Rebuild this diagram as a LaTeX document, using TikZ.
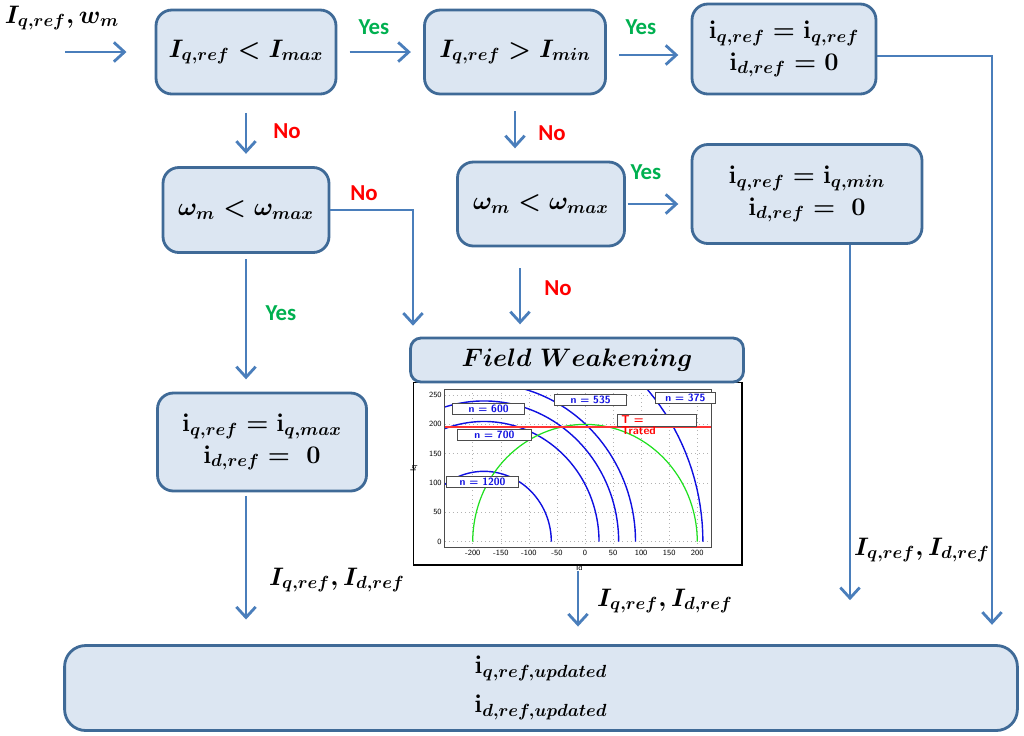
\documentclass[tikz,border=0pt]{standalone}
\usepackage{amsmath}
\usepackage{amssymb}
\usepackage{bm}
\usepackage{fontspec}
\newfontfamily\yesnofont{Carlito}
\usetikzlibrary{arrows.meta}

\definecolor{boxfill}{HTML}{DCE6F2}
\definecolor{boxline}{HTML}{3F6A97}
\definecolor{arrowblue}{HTML}{4A7EBB}
\definecolor{yesgreen}{HTML}{00B050}
\definecolor{plotblue}{HTML}{1010E0}
\definecolor{plotgreen}{HTML}{20E020}

\begin{document}
\begin{tikzpicture}
[
    x=0.02cm, y=-0.02cm,
    bx/.style={draw=boxline, fill=boxfill, line width=1.6pt, rounded corners=9pt, align=center,
               font=\Large\boldmath, inner sep=0pt},  % bx = decision / result box
    arr/.style={draw=arrowblue, line width=1.6pt, -{Straight Barb[length=6pt,width=11pt]},
                shorten <=7pt, shorten >=7pt},         % arr = flow arrow
    lne/.style={arr, shorten <=0pt},                   % lne = arrow leaving a box edge
    yes/.style={font=\yesnofont\bfseries\fontsize{13}{15}\selectfont, text=yesgreen},
    no/.style={font=\yesnofont\bfseries\fontsize{13}{15}\selectfont, text=red},
    lbl/.style={font=\Large\boldmath},
    tag/.style={draw=black!70, fill=white, inner sep=1pt, font=\sffamily\bfseries\fontsize{6}{6}\selectfont,
                text=plotblue, anchor=west},           % tag = curve label in the plot
]
\useasboundingbox (0,0) rectangle (1024,735);

% flow boxes
\node[bx, minimum width=3.6cm, minimum height=1.68cm] (b1) at (246,52) {$I_{q,ref} < I_{max}$};
\node[bx, minimum width=3.62cm, minimum height=1.68cm] (b2) at (515,52) {$I_{q,ref} > I_{min}$};
\node[bx, minimum width=3.68cm, minimum height=1.8cm] (b3) at (784,49)
    {$\mathbf{i}_{q,ref} = \mathbf{i}_{q,ref}$\\ $\mathbf{i}_{d,ref} = 0$};
\node[bx, minimum width=3.32cm, minimum height=1.7cm] (b4) at (246,210) {$\omega_m < \omega_{max}$};
\node[bx, minimum width=3.34cm, minimum height=1.68cm] (b6) at (541,204) {$\omega_m < \omega_{max}$};
\node[bx, minimum width=4.6cm, minimum height=1.98cm] (b7) at (807,194)
    {$\mathbf{i}_{q,ref} = \mathbf{i}_{q,min}$\\ $\mathbf{i}_{d,ref} = \ 0$};
\node[bx, minimum width=4.18cm, minimum height=1.96cm] (b5) at (262,442)
    {$\mathbf{i}_{q,ref} = \mathbf{i}_{q,max}$\\ $\mathbf{i}_{d,ref} = \ 0$};
\node[bx, minimum width=19.06cm, minimum height=1.7cm, rounded corners=12pt] (out) at (541,688)
    {$\mathbf{i}_{q,ref,updated}$\\[4pt] $\mathbf{i}_{d,ref,updated}$};

% field weakening plot
\node[draw=black, line width=0.6pt, minimum width=6.58cm, minimum height=3.66cm] (plt) at (577.5,473.5) {};
\begin{scope}[shift={(585,541.7)}, x=0.01123cm, y=0.01174cm]
  \draw[gray!60, dotted, line width=0.3pt] (-200,-10) grid[xstep=50,ystep=0] (200,260);
  \draw[gray!60, dotted, line width=0.3pt] (-250,0) grid[xstep=0,ystep=50] (225,250);
  \foreach \v in {-200,-150,...,200}
    \node[font=\sffamily\fontsize{4.5}{5}\selectfont, below, inner sep=1.5pt] at (\v,-10) {\v};
  \foreach \v in {0,50,...,250}
    \node[font=\sffamily\fontsize{4.5}{5}\selectfont, left, inner sep=1.5pt] at (-250,\v) {\v};
  \node[font=\sffamily\fontsize{4.5}{5}\selectfont] at (-10,-45) {Id};
  \node[font=\sffamily\fontsize{4.5}{5}\selectfont, rotate=90] at (-305,125) {Iq};
  \begin{scope}
    \clip (-250,-10) rectangle (225,260);
    \foreach \r in {120,205,240,270,390}
      \draw[plotblue, line width=0.8pt] plot[domain=0:180, samples=80] ({-180+\r*cos(\x)},{\r*sin(\x)});
    \draw[plotgreen, line width=0.7pt] plot[domain=0:180, samples=80] ({200*cos(\x)},{200*sin(\x)});
    \draw[red!80, line width=1pt] (-250,195) -- (225,195);
  \end{scope}
  \draw[black!70, line width=0.4pt] (-250,-10) rectangle (225,260);
\end{scope}
\node[tag, minimum width=1.45cm] (n600) at (452,408.5) {n = 600};
\node[tag, minimum width=1.45cm] (n535) at (554,399.5) {n = 535};
\node[tag, minimum width=1.2cm] (n375) at (655,397.5) {n = 375};
\node[tag, minimum width=1.48cm] (n700) at (457,434.5) {n = 700};
\node[tag, minimum width=1.45cm] (n1200) at (446,481.5) {n = 1200};
\node[tag, minimum width=1.58cm, minimum height=0.24cm] (trat) at (617,420) {};
\node[font=\sffamily\bfseries\fontsize{6.5}{6.5}\selectfont, text=red, align=left, anchor=north west, inner sep=0pt]
    (tlab) at (621,415) {T =\\Trated};
\node[bx, minimum width=6.66cm, minimum height=0.88cm, rounded corners=6pt] (fw) at (577,360)
    {$Field\ Weakening$};

% labels
\node[lbl] (inp) at (62,18) {$I_{q,ref}, w_m$};
\node[yes] (y1) at (374,27) {Yes};
\node[yes] (y2) at (641,27) {Yes};
\node[yes] (y3) at (646,172) {Yes};
\node[yes] (y4) at (281,313) {Yes};
\node[no] (n1) at (287,131) {No};
\node[no] (n2) at (364,193) {No};
\node[no] (n3) at (552,133) {No};
\node[no] (n4) at (558,288) {No};
\node[lbl] (o1) at (337,580) {$I_{q,ref}, I_{d,ref}$};
\node[lbl] (o2) at (665,601) {$I_{q,ref}, I_{d,ref}$};
\node[lbl] (o3) at (922,550) {$I_{q,ref}, I_{d,ref}$};

% connectors
\coordinate (in0) at (65,52);
\coordinate (fwin) at (413,338);
\coordinate (rgt) at (992,56);
\coordinate (hy) at (0,55);
\coordinate (c6) at (520,0);
\coordinate (c7) at (850,0);
\coordinate (cp) at (578,0);
\draw[arr, shorten <=0pt, shorten >=16pt] (in0) -- (b1.west);
\draw[arr] (b1.east) -- (b2.west);
\draw[arr] (b2.east |- hy) -- (b3.west |- hy);
\draw[arr, shorten <=10pt] (b1.south) -- (b4.north);
\draw[lne] (b4.east) -| (fwin);
\draw[arr, shorten <=3pt] (b4.south) -- (b4.south |- b5.north);
\draw[arr, shorten <=2pt, shorten >=14pt] (b4.south |- b5.south) -- (b4.south |- out.north);
\draw[arr, shorten <=9pt] (b2.south) -- (b2.south |- b6.north);
\draw[arr, shorten <=1pt] (b6.east) -- (b6.east -| b7.west);
\draw[arr, shorten <=12pt] (c6 |- b6.south) -- (c6 |- fw.north);
\draw[lne, shorten >=11pt] (b3.east |- rgt) -| (rgt |- out.north);
\draw[lne, shorten >=25pt] (c7 |- b7.south) -- (c7 |- out.north);
\draw[arr, shorten <=3pt, shorten >=10pt] (cp |- plt.south) -- (cp |- out.north);
\end{tikzpicture}
\end{document}
